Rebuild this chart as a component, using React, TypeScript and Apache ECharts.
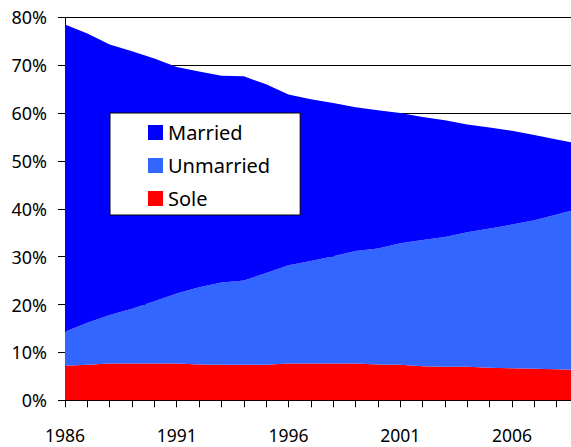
import React, { useEffect, useRef } from "react";
import * as echarts from "echarts";

const years = [
  "1986", "1987", "1988", "1989", "1990", "1991", "1992", "1993", "1994", "1995", "1996", "1997",
  "1998", "1999", "2000", "2001", "2002", "2003", "2004", "2005", "2006", "2007", "2008", "2009",
];
const sole = [7.2, 7.4, 7.7, 7.7, 7.7, 7.7, 7.5, 7.4, 7.4, 7.4, 7.7, 7.7, 7.7, 7.7, 7.5, 7.4, 7.1, 7.0, 7.0, 6.8, 6.7, 6.6, 6.5, 6.3];
const unmarried = [7.1, 8.8, 10.1, 11.4, 13.0, 14.6, 16.1, 17.2, 17.6, 19.2, 20.5, 21.4, 22.4, 23.5, 24.2, 25.4, 26.4, 27.1, 28.1, 29.1, 30.0, 31.0, 32.3, 33.7];
const married = [64.2, 60.4, 56.5, 53.8, 50.7, 47.3, 45.1, 43.2, 42.7, 39.4, 35.7, 33.8, 32.0, 30.0, 28.9, 27.2, 25.7, 24.4, 22.5, 21.1, 19.6, 17.8, 15.7, 13.6];
const legendNames = ["Married", "Unmarried", "Sole"];

const FONT = "Noto Sans";

export default function App() {
  const ref = useRef<HTMLDivElement>(null);
  useEffect(() => {
    if (!ref.current) return;
    const chart = echarts.init(ref.current, undefined, { renderer: "svg" });
    const area = (name: string, data: number[], color: string) => ({
      name,
      type: "line",
      stack: "total",
      data,
      showSymbol: false,
      symbol: "none",
      lineStyle: { width: 0 },
      itemStyle: { color },
      areaStyle: { color, opacity: 1 },
      emphasis: { disabled: true },
    });
    chart.setOption({
      animation: false,
      backgroundColor: "#fff",
      grid: { left: 65, top: 17.3, right: 0, bottom: 46.7, containLabel: false },
      legend: {
        data: legendNames,
        orient: "vertical",
        left: 110,
        top: 113,
        padding: [9.5, 30, 6.5, 38],
        itemWidth: 15,
        itemHeight: 15,
        itemGap: 13,
        icon: "rect",
        backgroundColor: "#fff",
        borderColor: "#000",
        borderWidth: 1,
        borderRadius: 0,
        textStyle: { fontFamily: FONT, fontSize: 20, color: "#000" },
      },
      xAxis: {
        type: "category",
        data: years,
        boundaryGap: false,
        axisLine: { show: true, lineStyle: { color: "#000", width: 1 } },
        axisTick: { show: true, interval: 0, length: 7, lineStyle: { color: "#000" } },
        axisLabel: { interval: 4, margin: 26, fontFamily: FONT, fontSize: 17.5, color: "#000" },
        splitLine: { show: false },
      },
      yAxis: {
        type: "value",
        min: 0,
        max: 80,
        interval: 10,
        axisLine: { show: true, lineStyle: { color: "#000", width: 1 } },
        axisTick: { show: true, length: 7, lineStyle: { color: "#000" } },
        axisLabel: {
          formatter: "{value}%",
          margin: 18,
          padding: [5, 0, 0, 0],
          fontFamily: FONT,
          fontSize: 18,
          color: "#000",
        },
        splitLine: { show: true, lineStyle: { color: "#000", width: 1 } },
      },
      series: [
        area("Sole", sole, "#FF0000"),
        area("Unmarried", unmarried, "#3366FF"),
        area("Married", married, "#0000FF"),
      ],
    });
    return () => chart.dispose();
  }, []);
  return (
    <div style={{ position: "fixed", left: 0, top: 0, width: 571, height: 447, overflow: "hidden", background: "#fff" }}>
      <div ref={ref} style={{ width: 579, height: 447 }} />
    </div>
  );
}
